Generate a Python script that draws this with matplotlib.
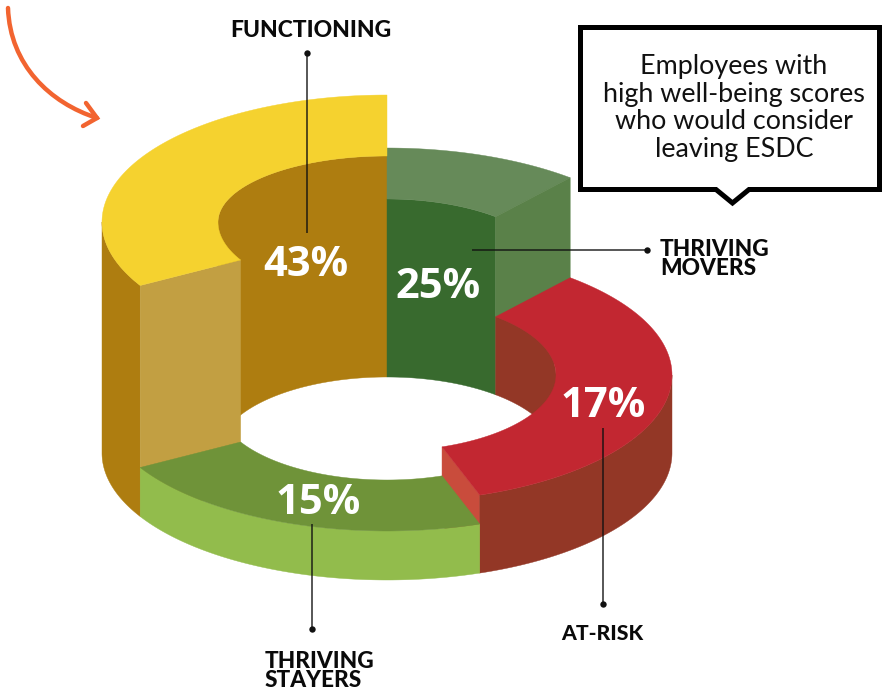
import numpy as np
import matplotlib
matplotlib.use("Agg")
import matplotlib.pyplot as plt
from matplotlib.patches import Polygon, PathPatch
from matplotlib.path import Path

# segments go clockwise from 12 o'clock
names = ["THRIVING\nMOVERS", "AT-RISK", "THRIVING\nSTAYERS", "FUNCTIONING"]
percents = [25, 17, 15, 43]
sweep_deg = [40, 121, 79, 120]
heights = [178, 78, 49, 231]
callout = "Employees with\nhigh well-being scores\nwho would consider\nleaving ESDC"

top_colors = ["#668a59", "#c22731", "#6f9339", "#f5d22f"]
wall_colors = ["#386a2e", "#933726", "#92bc4c", "#ae7d10"]
cut_colors = ["#5a8149", "#c94c3c", "#92bc4c", "#c29f42"]

cx, base_y = 387, 453
rx_out, ry_out = 285, 127
rx_in, ry_in = 169, 76
back_ry_tall = 66  # inner rim of the tall segment is flatter at the back

edges = 90 - np.concatenate([[0], np.cumsum(sweep_deg)])


def arc(rx, ry, cy, a0, a1, back_ry=None):
    a = np.radians(np.linspace(a0, a1, 120))
    s = np.sin(a)
    r = np.where(s > 0, back_ry if back_ry else ry, ry)
    return np.column_stack([cx + rx * np.cos(a), cy - r * s])


def band(ax, pts_a, pts_b, color):
    ax.add_patch(Polygon(np.vstack([pts_a, pts_b[::-1]]), closed=True, fc=color, ec=color, lw=0.3))


def cut_face(ax, angle, top, color):
    p = np.array([
        arc(rx_in, ry_in, top, angle, angle)[0],
        arc(rx_out, ry_out, top, angle, angle)[0],
        arc(rx_out, ry_out, base_y, angle, angle)[0],
        arc(rx_in, ry_in, base_y, angle, angle)[0],
    ])
    ax.add_patch(Polygon(p, closed=True, fc=color, ec=color, lw=0.3))


fig = plt.figure(figsize=(8.82, 6.91), dpi=100)
ax = fig.add_axes([0, 0, 1, 1])
ax.set_xlim(0, 882)
ax.set_ylim(691, 0)
ax.axis("off")

mov, risk, stay, func = 0, 1, 2, 3
top_y = [base_y - h for h in heights]
f_cut = edges[func] + 360  # same edge, counted the other way round from 12 o'clock

# patches are added back to front, so the order below matters
band(ax, arc(rx_out, ry_out, top_y[func], 180, f_cut), arc(rx_out, ry_out, base_y, 180, f_cut), wall_colors[func])
band(ax, arc(rx_in, ry_in, top_y[func], 90, 180, back_ry_tall), arc(rx_in, ry_in, base_y, 90, 180), wall_colors[func])

# movers segment
band(ax, arc(rx_in, ry_in, top_y[mov], edges[0], edges[1]), arc(rx_in, ry_in, base_y, edges[0], edges[1]), wall_colors[mov])
band(ax, arc(rx_out, ry_out, top_y[mov], edges[0], edges[1]), arc(rx_in, ry_in, top_y[mov], edges[0], edges[1]), top_colors[mov])
cut_face(ax, edges[1], top_y[mov], cut_colors[mov])

# tall segment: cut face and top
cut_face(ax, f_cut, top_y[func], cut_colors[func])
band(ax, arc(rx_out, ry_out, top_y[func], 90, f_cut), arc(rx_in, ry_in, top_y[func], 90, f_cut, back_ry_tall), top_colors[func])

# at-risk segment
band(ax, arc(rx_in, ry_in, top_y[risk], edges[1], 0), arc(rx_in, ry_in, base_y, edges[1], 0), wall_colors[risk])
cut_face(ax, edges[2], top_y[risk], cut_colors[risk])
band(ax, arc(rx_out, ry_out, top_y[risk], 0, edges[2]), arc(rx_out, ry_out, base_y, 0, edges[2]), wall_colors[risk])
band(ax, arc(rx_out, ry_out, top_y[risk], edges[1], edges[2]), arc(rx_in, ry_in, top_y[risk], edges[1], edges[2]), top_colors[risk])

# stayers segment sits in front of everything
band(ax, arc(rx_out, ry_out, top_y[stay], edges[2], edges[3]), arc(rx_out, ry_out, base_y, edges[2], edges[3]), wall_colors[stay])
band(ax, arc(rx_out, ry_out, top_y[stay], edges[2], edges[3]), arc(rx_in, ry_in, top_y[stay], edges[2], edges[3]), top_colors[stay])

# leader lines with a dot at the label end
leaders = [((647, 250), (472, 250)), ((603, 604), (603, 428)), ((312, 629), (312, 524)), ((307, 53), (307, 233))]
for (x0, y0), (x1, y1) in leaders:
    ax.plot([x0, x1], [y0, y1], color="#111111", lw=1.1, alpha=0.9, zorder=10, solid_capstyle="butt")
    ax.plot([x0], [y0], "o", color="#111111", ms=4.6, mew=0, zorder=10)

# segment names
name_pos = [(660, 259), (602, 634), (319, 671), (311, 30)]
name_align = ["left", "center", "center", "center"]
name_size = [16.3, 15.2, 16.3, 16.5]
for n, (x, y), ha, fs in zip(names, name_pos, name_align, name_size):
    ax.text(x, y, n, family="Lato", weight="black", fontsize=fs, color="#0a0a0a",
            ha=ha, va="center", multialignment="left", linespacing=0.88, zorder=11)

pct_pos = [(438, 287), (603, 406), (318, 503), (306, 265)]
for v, (x, y) in zip(percents, pct_pos):
    ax.text(x, y, f"{v}%", family="Open Sans", weight="bold", fontsize=30, color="white",
            ha="center", va="center", zorder=11)

# speech box
box = [(580.5, 27.5), (879.5, 27.5), (879.5, 189.5), (749, 189.5), (732.5, 203), (716, 189.5), (580.5, 189.5)]
ax.add_patch(Polygon(box, closed=True, fc="white", ec="black", lw=3.6, joinstyle="miter", zorder=12))
ax.text(734, 108, callout, family="Lato", fontsize=19.4, color="#111111", ha="center", va="center",
        linespacing=1.13, zorder=13)

# orange arrow, top left
curve = Path([(8, 8), (10, 65), (50, 103), (97, 118)], [Path.MOVETO, Path.CURVE4, Path.CURVE4, Path.CURVE4])
ax.add_patch(PathPatch(curve, fc="none", ec="#f26430", lw=3.2, capstyle="round", zorder=12))
ax.plot([86, 97, 83], [103, 118, 126], color="#f26430", lw=3.2, solid_capstyle="round", solid_joinstyle="miter", zorder=12)

fig.savefig("out.png", dpi=100, facecolor="white")
